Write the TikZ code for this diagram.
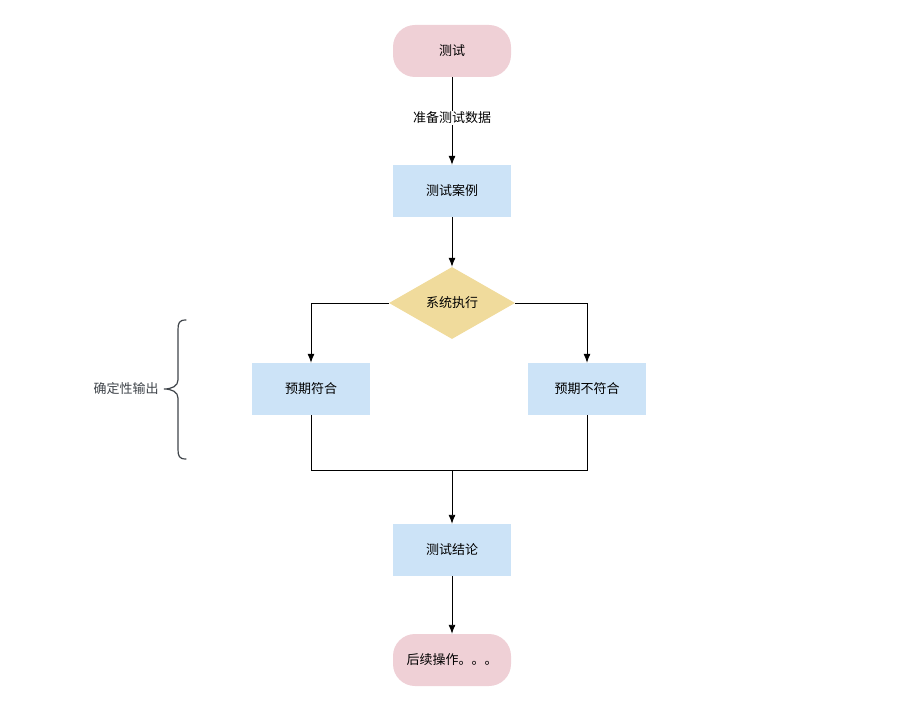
\documentclass[tikz,border=0pt]{standalone}
\usepackage{fontspec}
\setmainfont{Noto Sans CJK SC}
\usetikzlibrary{shapes.geometric,arrows.meta}
\definecolor{pinkfill}{HTML}{EFD0D6}
\definecolor{bluefill}{HTML}{CCE3F7}
\definecolor{goldfill}{HTML}{F0DB9C}
\definecolor{bracecol}{HTML}{3F444A}
\tikzset{
  every node/.style={font=\fontsize{13}{15}\selectfont},
  terminal/.style={draw=none, fill=pinkfill, rounded corners=22pt, minimum width=118pt, minimum height=52pt, inner sep=0pt},
  procbox/.style={draw=none, fill=bluefill, minimum width=118pt, minimum height=52pt, inner sep=0pt},
  decision/.style={draw=none, fill=goldfill, diamond, minimum width=126pt, minimum height=72pt, inner sep=0pt, aspect=1.75},
  conn/.style={draw=black, line width=0.9pt, -{Latex[length=9pt,width=7pt]}},
  plainconn/.style={draw=black, line width=0.9pt},
}
\begin{document}
\begin{tikzpicture}[x=1pt,y=-1pt]
\useasboundingbox (0,0) rectangle (900,727);
\node[terminal] (start) at (452,51) {测试};
\node[procbox] (case) at (452,191) {测试案例};
\node[decision] (exec) at (452,303) {系统执行};
\node[procbox] (ok) at (311,389) {预期符合};
\node[procbox] (nok) at (587,389) {预期不符合};
\node[procbox] (concl) at (452,550) {测试结论};
\node[terminal] (next) at (452,660) {后续操作。。。};
\coordinate (merge) at (452,470);

\draw[conn] (start) -- node[pos=0.465, fill=white, inner sep=1pt] (lbl) {准备测试数据} (case);
\draw[conn] (case) -- (exec);
\draw[conn] (exec.west) -| (ok.north);
\draw[conn] (exec.east) -| (nok.north);
\draw[plainconn] (ok.south) |- (merge);
\draw[plainconn] (nok.south) |- (merge);
\draw[conn] (merge) -- (concl);
\draw[conn] (concl) -- (next);

\draw[bracecol, line width=1.2pt, line cap=round]
  (186,320) .. controls (179,320) and (178,323) .. (178,330) -- (178,380)
  .. controls (178,386) and (172,389) .. (164,389)
  .. controls (172,389) and (178,392) .. (178,398) -- (178,449)
  .. controls (178,456) and (179,459) .. (186,459);
\node[text=bracecol] (det) at (126,389) {确定性输出};
\end{tikzpicture}
\end{document}
